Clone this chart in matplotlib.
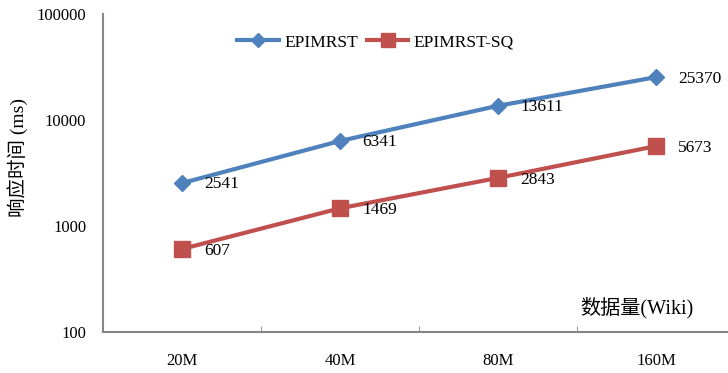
import numpy as np
import matplotlib.pyplot as plt
import matplotlib.ticker as ticker

plt.rcParams['font.family'] = ['Liberation Serif', 'Noto Sans CJK SC']

categories = ['20M', '40M', '80M', '160M']
epimrst = [2541, 6341, 13611, 25370]
epimrst_sq = [607, 1469, 2843, 5673]

fig = plt.figure(figsize=(7.28, 3.73), dpi=100)
W, H = 728, 373
ax = fig.add_axes([103 / W, 1 - 332 / H, (728 - 103) / W, (332 - 14) / H])

x = np.arange(len(categories))
blue = '#4F81BD'
red = '#C0504D'
ax.plot(x, epimrst, color=blue, lw=3, marker='D', ms=8.5, label='EPIMRST', zorder=3)
ax.plot(x, epimrst_sq, color=red, lw=3, marker='s', ms=12, label='EPIMRST-SQ', zorder=3)

for xi, v in zip(x, epimrst):
    ax.annotate(str(v), (xi, v), xytext=(16, -1), textcoords='offset points',
                ha='left', va='center', fontsize=12.5)
for xi, v in zip(x, epimrst_sq):
    ax.annotate(str(v), (xi, v), xytext=(16, -1.5), textcoords='offset points',
                ha='left', va='center', fontsize=12.5)

ax.set_yscale('log')
ax.set_ylim(100, 100000)
ax.yaxis.set_major_locator(ticker.FixedLocator([100, 1000, 10000, 100000]))
ax.yaxis.set_major_formatter(ticker.FuncFormatter(lambda v, p: '%d' % v))
ax.yaxis.set_minor_locator(ticker.NullLocator())
ax.tick_params(axis='y', length=0, labelsize=12, pad=12)

ax.set_xlim(-0.5, (728 - 103) / 158 - 0.5)
ax.set_xticks(x)
ax.set_xticklabels(categories)
ax.set_xticks(x[:-1] + 0.5, minor=True)
ax.tick_params(axis='x', which='major', length=0, labelsize=12, pad=15)
ax.tick_params(axis='x', which='minor', length=4, direction='in', color='#868686')

for s in ['top', 'right']:
    ax.spines[s].set_visible(False)
for s in ['left', 'bottom']:
    ax.spines[s].set_color('#868686')
    ax.spines[s].set_linewidth(1.5)

# y label placed in figure pixels
fig.text(18 / W, 1 - 157 / H, '响应时间 (ms)', rotation=90, ha='center', va='center', fontsize=14)
ax.text(0.944, 0.075, '数据量(Wiki)', transform=ax.transAxes, ha='right', va='center', fontsize=14.5)

ax.legend(loc='upper left', bbox_to_anchor=(0.19, 0.985), ncol=2, frameon=False,
          fontsize=12.5, handlelength=2.4, columnspacing=0.5, handletextpad=0.3,
          markerscale=0.8)

fig.savefig('out.png', dpi=100)
